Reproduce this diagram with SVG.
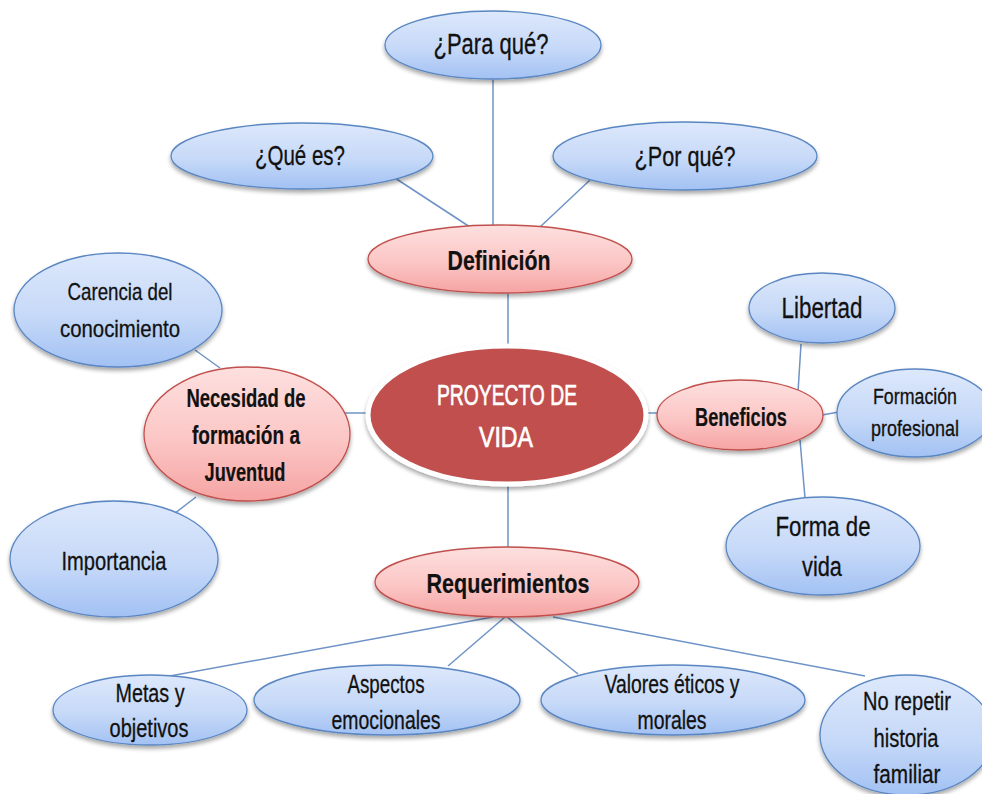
<svg xmlns="http://www.w3.org/2000/svg" width="982" height="794" viewBox="0 0 982 794">
<defs>
<linearGradient id="gBlue" x1="0" y1="0" x2="0" y2="1">
<stop offset="0" stop-color="#dde8fb"/>
<stop offset="0.55" stop-color="#c6d9f8"/>
<stop offset="1" stop-color="#a2c1f3"/>
</linearGradient>
<linearGradient id="gPink" x1="0" y1="0" x2="0" y2="1">
<stop offset="0" stop-color="#fde0df"/>
<stop offset="0.55" stop-color="#fbc6c5"/>
<stop offset="1" stop-color="#f5a4a3"/>
</linearGradient>
<filter id="sh" x="-10%" y="-10%" width="125%" height="135%">
<feGaussianBlur in="SourceAlpha" stdDeviation="2"/>
<feOffset dx="0" dy="3" result="b"/>
<feComponentTransfer><feFuncA type="linear" slope="0.35"/></feComponentTransfer>
<feMerge><feMergeNode/><feMergeNode in="SourceGraphic"/></feMerge>
</filter>
</defs>
<style>
.blue{fill:url(#gBlue);stroke:#5a86c2;stroke-width:1.3;filter:url(#sh)}
.pink{fill:url(#gPink);stroke:#c0504d;stroke-width:1.3;filter:url(#sh)}
.core{fill:#c0504d;stroke:#ffffff;stroke-width:5;filter:url(#sh)}
text{font-family:"Liberation Sans",Arial,sans-serif;text-anchor:middle;fill:#111111;stroke:#111111;stroke-width:0.3}
.b{font-weight:bold;stroke-width:0.2}
.w{fill:#ffffff;stroke:#ffffff;stroke-width:0.7}
.conn line{stroke:#6f93c6;stroke-width:1.5}
</style>
<rect width="982" height="794" fill="#ffffff"/>
<g id="connectors" class="conn">
<line x1="493" y1="80" x2="493" y2="226"/>
<line x1="395" y1="178" x2="470" y2="227"/>
<line x1="590" y1="180" x2="540" y2="227"/>
<line x1="508" y1="294" x2="508" y2="346"/>
<line x1="508" y1="485" x2="508" y2="548"/>
<line x1="195" y1="350" x2="220" y2="368"/>
<line x1="170" y1="517" x2="196" y2="497"/>
<line x1="335" y1="413" x2="368" y2="413"/>
<line x1="647" y1="413" x2="658" y2="413"/>
<line x1="801" y1="344" x2="798" y2="392"/>
<line x1="822" y1="415" x2="839" y2="412"/>
<line x1="800" y1="440" x2="805" y2="498"/>
<line x1="493" y1="617" x2="170" y2="676"/>
<line x1="505" y1="617" x2="448" y2="666"/>
<line x1="507" y1="617" x2="578" y2="674"/>
<line x1="553" y1="617" x2="865" y2="676"/>
</g>
<g id="n-paraque"><ellipse class="blue" cx="493" cy="45" rx="108" ry="34"/><text x="491" y="54" font-size="29" textLength="115" lengthAdjust="spacingAndGlyphs">¿Para qué?</text></g>
<g id="n-quees"><ellipse class="blue" cx="302" cy="156" rx="131" ry="33"/><text x="300" y="165" font-size="28" textLength="90" lengthAdjust="spacingAndGlyphs">¿Qué es?</text></g>
<g id="n-porque"><ellipse class="blue" cx="685" cy="156" rx="132" ry="34"/><text x="685" y="166" font-size="28" textLength="101" lengthAdjust="spacingAndGlyphs">¿Por qué?</text></g>
<g id="n-definicion"><ellipse class="pink" cx="500" cy="259" rx="132" ry="34"/><text class="b" x="499" y="270" font-size="27" textLength="103" lengthAdjust="spacingAndGlyphs">Definición</text></g>
<g id="n-proyecto"><ellipse class="core" cx="507" cy="415" rx="139" ry="69"/><text class="w" x="507" y="405" font-size="29" textLength="140" lengthAdjust="spacingAndGlyphs">PROYECTO DE</text><text class="w" x="506" y="447" font-size="29" textLength="54" lengthAdjust="spacingAndGlyphs">VIDA</text></g>
<g id="n-carencia"><ellipse class="blue" cx="118" cy="310" rx="104" ry="57"/><text x="120" y="300" font-size="24" textLength="105" lengthAdjust="spacingAndGlyphs">Carencia del</text><text x="120" y="337" font-size="24" textLength="120" lengthAdjust="spacingAndGlyphs">conocimiento</text></g>
<g id="n-necesidad"><ellipse class="pink" cx="247" cy="434" rx="103" ry="67"/><text class="b" x="246" y="407" font-size="25" textLength="119" lengthAdjust="spacingAndGlyphs">Necesidad de</text><text class="b" x="246" y="444" font-size="25" textLength="108" lengthAdjust="spacingAndGlyphs">formación  a</text><text class="b" x="245" y="481" font-size="25" textLength="81" lengthAdjust="spacingAndGlyphs">Juventud</text></g>
<g id="n-importancia"><ellipse class="blue" cx="114" cy="559" rx="104" ry="58"/><text x="114" y="570" font-size="25" textLength="105" lengthAdjust="spacingAndGlyphs">Importancia</text></g>
<g id="n-beneficios"><ellipse class="pink" cx="740" cy="415" rx="83" ry="35"/><text class="b" x="741" y="426" font-size="26" textLength="92" lengthAdjust="spacingAndGlyphs">Beneficios</text></g>
<g id="n-libertad"><ellipse class="blue" cx="822" cy="308" rx="73" ry="35"/><text x="822" y="318" font-size="29" textLength="81" lengthAdjust="spacingAndGlyphs">Libertad</text></g>
<g id="n-formacion"><ellipse class="blue" cx="915" cy="413" rx="78" ry="44"/><text x="915" y="404" font-size="22" textLength="84" lengthAdjust="spacingAndGlyphs">Formación</text><text x="915" y="436" font-size="22" textLength="88" lengthAdjust="spacingAndGlyphs">profesional</text></g>
<g id="n-forma"><ellipse class="blue" cx="823" cy="546" rx="97" ry="49"/><text x="823" y="536" font-size="27" textLength="95" lengthAdjust="spacingAndGlyphs">Forma de</text><text x="822" y="576" font-size="27" textLength="40" lengthAdjust="spacingAndGlyphs">vida</text></g>
<g id="n-requerimientos"><ellipse class="pink" cx="507" cy="582" rx="132" ry="35"/><text class="b" x="508" y="593" font-size="27" textLength="163" lengthAdjust="spacingAndGlyphs">Requerimientos</text></g>
<g id="n-metas"><ellipse class="blue" cx="150" cy="710" rx="97" ry="35"/><text x="150" y="702" font-size="26" textLength="69" lengthAdjust="spacingAndGlyphs">Metas y</text><text x="149" y="737" font-size="26" textLength="79" lengthAdjust="spacingAndGlyphs">objetivos</text></g>
<g id="n-aspectos"><ellipse class="blue" cx="387" cy="700" rx="133" ry="35"/><text x="386" y="693" font-size="26" textLength="77" lengthAdjust="spacingAndGlyphs">Aspectos</text><text x="386" y="729" font-size="26" textLength="109" lengthAdjust="spacingAndGlyphs">emocionales</text></g>
<g id="n-valores"><ellipse class="blue" cx="673" cy="700" rx="132" ry="35"/><text x="672" y="693" font-size="25" textLength="135" lengthAdjust="spacingAndGlyphs">Valores éticos y</text><text x="672" y="729" font-size="25" textLength="69" lengthAdjust="spacingAndGlyphs">morales</text></g>
<g id="n-norepetir"><ellipse class="blue" cx="907" cy="735" rx="87" ry="60"/><text x="907" y="710" font-size="26" textLength="88" lengthAdjust="spacingAndGlyphs">No repetir</text><text x="906" y="747" font-size="26" textLength="65" lengthAdjust="spacingAndGlyphs">historia</text><text x="907" y="783" font-size="26" textLength="67" lengthAdjust="spacingAndGlyphs">familiar</text></g>
</svg>
